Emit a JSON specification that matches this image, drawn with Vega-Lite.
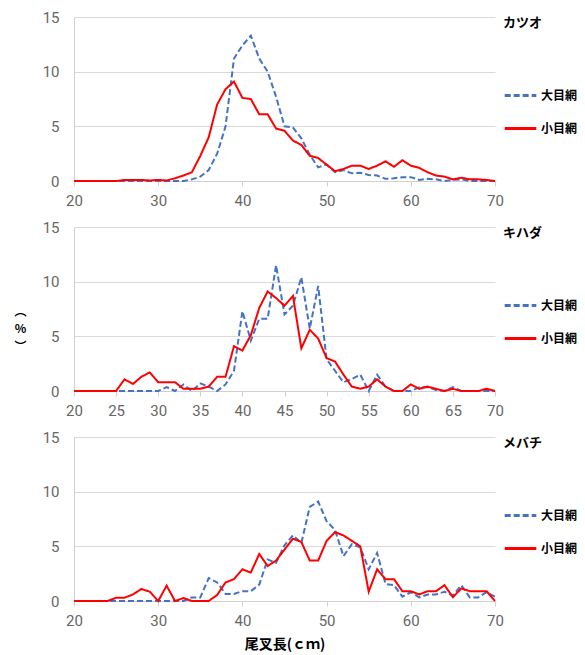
{
  "$schema": "https://vega.github.io/schema/vega-lite/v6.json",
  "background": "white",
  "padding": {"left": 13, "top": 10, "right": 5, "bottom": 5},
  "bounds": "flush",
  "spacing": 46,
  "resolve": {"scale": {"color": "independent", "strokeDash": "independent"}, "legend": {"color": "independent", "strokeDash": "independent"}},
  "config": {
    "view": {"stroke": null},
    "font": "Roboto",
    "axis": {"labelColor": "#666666", "labelFontSize": 15, "labelFont": "Roboto", "gridColor": "#D9D9D9", "domainColor": "#D0D0D0", "tickColor": "#D0D0D0", "titleFont": "Noto Sans CJK JP", "titleColor": "#000000"},
    "axisX": {"grid": false, "tickSize": 5, "labelPadding": 7, "labelFlush": false},
    "axisY": {"ticks": false, "labelPadding": 15, "grid": true},
    "legend": {"orient": "right", "offset": 4, "padding": 0, "titleFont": "Noto Sans CJK JP", "titleFontSize": 13, "titleFontWeight": "bold", "titleColor": "#000000", "titlePadding": 48, "labelFont": "Noto Sans CJK JP", "labelFontSize": 12, "labelFontWeight": "bold", "labelColor": "#000000", "symbolType": "stroke", "symbolSize": 1000, "symbolStrokeWidth": 3, "rowPadding": 9, "labelOffset": 3}
  },
  "data": {"values": [
    {"sp":"カツオ","net":"大目網","len":20,"pct":0},{"sp":"カツオ","net":"大目網","len":21,"pct":0},{"sp":"カツオ","net":"大目網","len":22,"pct":0},{"sp":"カツオ","net":"大目網","len":23,"pct":0},{"sp":"カツオ","net":"大目網","len":24,"pct":0},{"sp":"カツオ","net":"大目網","len":25,"pct":0},{"sp":"カツオ","net":"大目網","len":26,"pct":0},{"sp":"カツオ","net":"大目網","len":27,"pct":0},{"sp":"カツオ","net":"大目網","len":28,"pct":0},{"sp":"カツオ","net":"大目網","len":29,"pct":0},{"sp":"カツオ","net":"大目網","len":30,"pct":0},{"sp":"カツオ","net":"大目網","len":31,"pct":0},{"sp":"カツオ","net":"大目網","len":32,"pct":0},{"sp":"カツオ","net":"大目網","len":33,"pct":0},{"sp":"カツオ","net":"大目網","len":34,"pct":0.15},{"sp":"カツオ","net":"大目網","len":35,"pct":0.4},{"sp":"カツオ","net":"大目網","len":36,"pct":1.0},{"sp":"カツオ","net":"大目網","len":37,"pct":2.5},{"sp":"カツオ","net":"大目網","len":38,"pct":5.0},{"sp":"カツオ","net":"大目網","len":39,"pct":11.2},{"sp":"カツオ","net":"大目網","len":40,"pct":12.4},{"sp":"カツオ","net":"大目網","len":41,"pct":13.3},{"sp":"カツオ","net":"大目網","len":42,"pct":11.2},{"sp":"カツオ","net":"大目網","len":43,"pct":10.0},{"sp":"カツオ","net":"大目網","len":44,"pct":7.7},{"sp":"カツオ","net":"大目網","len":45,"pct":5.0},{"sp":"カツオ","net":"大目網","len":46,"pct":4.9},{"sp":"カツオ","net":"大目網","len":47,"pct":3.9},{"sp":"カツオ","net":"大目網","len":48,"pct":2.4},{"sp":"カツオ","net":"大目網","len":49,"pct":1.25},{"sp":"カツオ","net":"大目網","len":50,"pct":1.5},{"sp":"カツオ","net":"大目網","len":51,"pct":0.8},{"sp":"カツオ","net":"大目網","len":52,"pct":1.0},{"sp":"カツオ","net":"大目網","len":53,"pct":0.7},{"sp":"カツオ","net":"大目網","len":54,"pct":0.75},{"sp":"カツオ","net":"大目網","len":55,"pct":0.55},{"sp":"カツオ","net":"大目網","len":56,"pct":0.5},{"sp":"カツオ","net":"大目網","len":57,"pct":0.2},{"sp":"カツオ","net":"大目網","len":58,"pct":0.25},{"sp":"カツオ","net":"大目網","len":59,"pct":0.35},{"sp":"カツオ","net":"大目網","len":60,"pct":0.35},{"sp":"カツオ","net":"大目網","len":61,"pct":0.1},{"sp":"カツオ","net":"大目網","len":62,"pct":0.2},{"sp":"カツオ","net":"大目網","len":63,"pct":0.15},{"sp":"カツオ","net":"大目網","len":64,"pct":0},{"sp":"カツオ","net":"大目網","len":65,"pct":0.1},{"sp":"カツオ","net":"大目網","len":66,"pct":0.15},{"sp":"カツオ","net":"大目網","len":67,"pct":0},{"sp":"カツオ","net":"大目網","len":68,"pct":0},{"sp":"カツオ","net":"大目網","len":69,"pct":0},{"sp":"カツオ","net":"大目網","len":70,"pct":0},
    {"sp":"カツオ","net":"小目網","len":20,"pct":0},{"sp":"カツオ","net":"小目網","len":21,"pct":0},{"sp":"カツオ","net":"小目網","len":22,"pct":0},{"sp":"カツオ","net":"小目網","len":23,"pct":0},{"sp":"カツオ","net":"小目網","len":24,"pct":0},{"sp":"カツオ","net":"小目網","len":25,"pct":0},{"sp":"カツオ","net":"小目網","len":26,"pct":0.1},{"sp":"カツオ","net":"小目網","len":27,"pct":0.1},{"sp":"カツオ","net":"小目網","len":28,"pct":0.1},{"sp":"カツオ","net":"小目網","len":29,"pct":0.05},{"sp":"カツオ","net":"小目網","len":30,"pct":0.1},{"sp":"カツオ","net":"小目網","len":31,"pct":0.05},{"sp":"カツオ","net":"小目網","len":32,"pct":0.25},{"sp":"カツオ","net":"小目網","len":33,"pct":0.5},{"sp":"カツオ","net":"小目網","len":34,"pct":0.8},{"sp":"カツオ","net":"小目網","len":35,"pct":2.3},{"sp":"カツオ","net":"小目網","len":36,"pct":4.0},{"sp":"カツオ","net":"小目網","len":37,"pct":7.0},{"sp":"カツオ","net":"小目網","len":38,"pct":8.4},{"sp":"カツオ","net":"小目網","len":39,"pct":9.1},{"sp":"カツオ","net":"小目網","len":40,"pct":7.6},{"sp":"カツオ","net":"小目網","len":41,"pct":7.5},{"sp":"カツオ","net":"小目網","len":42,"pct":6.1},{"sp":"カツオ","net":"小目網","len":43,"pct":6.1},{"sp":"カツオ","net":"小目網","len":44,"pct":4.8},{"sp":"カツオ","net":"小目網","len":45,"pct":4.6},{"sp":"カツオ","net":"小目網","len":46,"pct":3.7},{"sp":"カツオ","net":"小目網","len":47,"pct":3.3},{"sp":"カツオ","net":"小目網","len":48,"pct":2.3},{"sp":"カツオ","net":"小目網","len":49,"pct":2.1},{"sp":"カツオ","net":"小目網","len":50,"pct":1.5},{"sp":"カツオ","net":"小目網","len":51,"pct":0.9},{"sp":"カツオ","net":"小目網","len":52,"pct":1.1},{"sp":"カツオ","net":"小目網","len":53,"pct":1.4},{"sp":"カツオ","net":"小目網","len":54,"pct":1.4},{"sp":"カツオ","net":"小目網","len":55,"pct":1.1},{"sp":"カツオ","net":"小目網","len":56,"pct":1.4},{"sp":"カツオ","net":"小目網","len":57,"pct":1.8},{"sp":"カツオ","net":"小目網","len":58,"pct":1.3},{"sp":"カツオ","net":"小目網","len":59,"pct":1.9},{"sp":"カツオ","net":"小目網","len":60,"pct":1.4},{"sp":"カツオ","net":"小目網","len":61,"pct":1.2},{"sp":"カツオ","net":"小目網","len":62,"pct":0.8},{"sp":"カツオ","net":"小目網","len":63,"pct":0.5},{"sp":"カツオ","net":"小目網","len":64,"pct":0.4},{"sp":"カツオ","net":"小目網","len":65,"pct":0.15},{"sp":"カツオ","net":"小目網","len":66,"pct":0.3},{"sp":"カツオ","net":"小目網","len":67,"pct":0.15},{"sp":"カツオ","net":"小目網","len":68,"pct":0.15},{"sp":"カツオ","net":"小目網","len":69,"pct":0.1},{"sp":"カツオ","net":"小目網","len":70,"pct":0},
    {"sp":"キハダ","net":"大目網","len":20,"pct":0},{"sp":"キハダ","net":"大目網","len":21,"pct":0},{"sp":"キハダ","net":"大目網","len":22,"pct":0},{"sp":"キハダ","net":"大目網","len":23,"pct":0},{"sp":"キハダ","net":"大目網","len":24,"pct":0},{"sp":"キハダ","net":"大目網","len":25,"pct":0},{"sp":"キハダ","net":"大目網","len":26,"pct":0},{"sp":"キハダ","net":"大目網","len":27,"pct":0},{"sp":"キハダ","net":"大目網","len":28,"pct":0},{"sp":"キハダ","net":"大目網","len":29,"pct":0},{"sp":"キハダ","net":"大目網","len":30,"pct":0},{"sp":"キハダ","net":"大目網","len":31,"pct":0.35},{"sp":"キハダ","net":"大目網","len":32,"pct":0},{"sp":"キハダ","net":"大目網","len":33,"pct":0.6},{"sp":"キハダ","net":"大目網","len":34,"pct":0},{"sp":"キハダ","net":"大目網","len":35,"pct":0.7},{"sp":"キハダ","net":"大目網","len":36,"pct":0.4},{"sp":"キハダ","net":"大目網","len":37,"pct":0},{"sp":"キハダ","net":"大目網","len":38,"pct":0.6},{"sp":"キハダ","net":"大目網","len":39,"pct":1.85},{"sp":"キハダ","net":"大目網","len":40,"pct":7.3},{"sp":"キハダ","net":"大目網","len":41,"pct":4.6},{"sp":"キハダ","net":"大目網","len":42,"pct":6.6},{"sp":"キハダ","net":"大目網","len":43,"pct":6.6},{"sp":"キハダ","net":"大目網","len":44,"pct":11.5},{"sp":"キハダ","net":"大目網","len":45,"pct":7.0},{"sp":"キハダ","net":"大目網","len":46,"pct":7.8},{"sp":"キハダ","net":"大目網","len":47,"pct":10.4},{"sp":"キハダ","net":"大目網","len":48,"pct":5.7},{"sp":"キハダ","net":"大目網","len":49,"pct":9.6},{"sp":"キハダ","net":"大目網","len":50,"pct":2.9},{"sp":"キハダ","net":"大目網","len":51,"pct":1.85},{"sp":"キハダ","net":"大目網","len":52,"pct":0.8},{"sp":"キハダ","net":"大目網","len":53,"pct":1.1},{"sp":"キハダ","net":"大目網","len":54,"pct":1.5},{"sp":"キハダ","net":"大目網","len":55,"pct":0},{"sp":"キハダ","net":"大目網","len":56,"pct":1.5},{"sp":"キハダ","net":"大目網","len":57,"pct":0.4},{"sp":"キハダ","net":"大目網","len":58,"pct":0},{"sp":"キハダ","net":"大目網","len":59,"pct":0},{"sp":"キハダ","net":"大目網","len":60,"pct":0},{"sp":"キハダ","net":"大目網","len":61,"pct":0.35},{"sp":"キハダ","net":"大目網","len":62,"pct":0.35},{"sp":"キハダ","net":"大目網","len":63,"pct":0.1},{"sp":"キハダ","net":"大目網","len":64,"pct":0},{"sp":"キハダ","net":"大目網","len":65,"pct":0.35},{"sp":"キハダ","net":"大目網","len":66,"pct":0},{"sp":"キハダ","net":"大目網","len":67,"pct":0},{"sp":"キハダ","net":"大目網","len":68,"pct":0},{"sp":"キハダ","net":"大目網","len":69,"pct":0},{"sp":"キハダ","net":"大目網","len":70,"pct":0},
    {"sp":"キハダ","net":"小目網","len":20,"pct":0},{"sp":"キハダ","net":"小目網","len":21,"pct":0},{"sp":"キハダ","net":"小目網","len":22,"pct":0},{"sp":"キハダ","net":"小目網","len":23,"pct":0},{"sp":"キハダ","net":"小目網","len":24,"pct":0},{"sp":"キハダ","net":"小目網","len":25,"pct":0},{"sp":"キハダ","net":"小目網","len":26,"pct":1.07},{"sp":"キハダ","net":"小目網","len":27,"pct":0.64},{"sp":"キハダ","net":"小目網","len":28,"pct":1.3},{"sp":"キハダ","net":"小目網","len":29,"pct":1.7},{"sp":"キハダ","net":"小目網","len":30,"pct":0.8},{"sp":"キハダ","net":"小目網","len":31,"pct":0.8},{"sp":"キハダ","net":"小目網","len":32,"pct":0.8},{"sp":"キハダ","net":"小目網","len":33,"pct":0.2},{"sp":"キハダ","net":"小目網","len":34,"pct":0.2},{"sp":"キハダ","net":"小目網","len":35,"pct":0.2},{"sp":"キハダ","net":"小目網","len":36,"pct":0.4},{"sp":"キハダ","net":"小目網","len":37,"pct":1.3},{"sp":"キハダ","net":"小目網","len":38,"pct":1.3},{"sp":"キハダ","net":"小目網","len":39,"pct":4.1},{"sp":"キハダ","net":"小目網","len":40,"pct":3.7},{"sp":"キハダ","net":"小目網","len":41,"pct":5.1},{"sp":"キハダ","net":"小目網","len":42,"pct":7.6},{"sp":"キハダ","net":"小目網","len":43,"pct":9.1},{"sp":"キハダ","net":"小目網","len":44,"pct":8.5},{"sp":"キハダ","net":"小目網","len":45,"pct":7.8},{"sp":"キハダ","net":"小目網","len":46,"pct":8.7},{"sp":"キハダ","net":"小目網","len":47,"pct":3.9},{"sp":"キハダ","net":"小目網","len":48,"pct":5.6},{"sp":"キハダ","net":"小目網","len":49,"pct":4.8},{"sp":"キハダ","net":"小目網","len":50,"pct":3.0},{"sp":"キハダ","net":"小目網","len":51,"pct":2.7},{"sp":"キハダ","net":"小目網","len":52,"pct":1.5},{"sp":"キハダ","net":"小目網","len":53,"pct":0.4},{"sp":"キハダ","net":"小目網","len":54,"pct":0.2},{"sp":"キハダ","net":"小目網","len":55,"pct":0.4},{"sp":"キハダ","net":"小目網","len":56,"pct":1.07},{"sp":"キハダ","net":"小目網","len":57,"pct":0.4},{"sp":"キハダ","net":"小目網","len":58,"pct":0},{"sp":"キハダ","net":"小目網","len":59,"pct":0},{"sp":"キハダ","net":"小目網","len":60,"pct":0.6},{"sp":"キハダ","net":"小目網","len":61,"pct":0.2},{"sp":"キハダ","net":"小目網","len":62,"pct":0.4},{"sp":"キハダ","net":"小目網","len":63,"pct":0.2},{"sp":"キハダ","net":"小目網","len":64,"pct":0},{"sp":"キハダ","net":"小目網","len":65,"pct":0.2},{"sp":"キハダ","net":"小目網","len":66,"pct":0},{"sp":"キハダ","net":"小目網","len":67,"pct":0},{"sp":"キハダ","net":"小目網","len":68,"pct":0},{"sp":"キハダ","net":"小目網","len":69,"pct":0.2},{"sp":"キハダ","net":"小目網","len":70,"pct":0},
    {"sp":"メバチ","net":"大目網","len":20,"pct":0},{"sp":"メバチ","net":"大目網","len":21,"pct":0},{"sp":"メバチ","net":"大目網","len":22,"pct":0},{"sp":"メバチ","net":"大目網","len":23,"pct":0},{"sp":"メバチ","net":"大目網","len":24,"pct":0},{"sp":"メバチ","net":"大目網","len":25,"pct":0},{"sp":"メバチ","net":"大目網","len":26,"pct":0},{"sp":"メバチ","net":"大目網","len":27,"pct":0},{"sp":"メバチ","net":"大目網","len":28,"pct":0},{"sp":"メバチ","net":"大目網","len":29,"pct":0},{"sp":"メバチ","net":"大目網","len":30,"pct":0},{"sp":"メバチ","net":"大目網","len":31,"pct":0},{"sp":"メバチ","net":"大目網","len":32,"pct":0},{"sp":"メバチ","net":"大目網","len":33,"pct":0},{"sp":"メバチ","net":"大目網","len":34,"pct":0.33},{"sp":"メバチ","net":"大目網","len":35,"pct":0.33},{"sp":"メバチ","net":"大目網","len":36,"pct":2.1},{"sp":"メバチ","net":"大目網","len":37,"pct":1.7},{"sp":"メバチ","net":"大目網","len":38,"pct":0.65},{"sp":"メバチ","net":"大目網","len":39,"pct":0.65},{"sp":"メバチ","net":"大目網","len":40,"pct":0.9},{"sp":"メバチ","net":"大目網","len":41,"pct":0.9},{"sp":"メバチ","net":"大目網","len":42,"pct":1.5},{"sp":"メバチ","net":"大目網","len":43,"pct":3.8},{"sp":"メバチ","net":"大目網","len":44,"pct":3.5},{"sp":"メバチ","net":"大目網","len":45,"pct":5.1},{"sp":"メバチ","net":"大目網","len":46,"pct":6.0},{"sp":"メバチ","net":"大目網","len":47,"pct":5.3},{"sp":"メバチ","net":"大目網","len":48,"pct":8.6},{"sp":"メバチ","net":"大目網","len":49,"pct":9.1},{"sp":"メバチ","net":"大目網","len":50,"pct":7.3},{"sp":"メバチ","net":"大目網","len":51,"pct":6.5},{"sp":"メバチ","net":"大目網","len":52,"pct":4.1},{"sp":"メバチ","net":"大目網","len":53,"pct":5.2},{"sp":"メバチ","net":"大目網","len":54,"pct":4.9},{"sp":"メバチ","net":"大目網","len":55,"pct":2.9},{"sp":"メバチ","net":"大目網","len":56,"pct":4.4},{"sp":"メバチ","net":"大目網","len":57,"pct":1.55},{"sp":"メバチ","net":"大目網","len":58,"pct":1.45},{"sp":"メバチ","net":"大目網","len":59,"pct":0.4},{"sp":"メバチ","net":"大目網","len":60,"pct":0.8},{"sp":"メバチ","net":"大目網","len":61,"pct":0.33},{"sp":"メバチ","net":"大目網","len":62,"pct":0.6},{"sp":"メバチ","net":"大目網","len":63,"pct":0.6},{"sp":"メバチ","net":"大目網","len":64,"pct":0.85},{"sp":"メバチ","net":"大目網","len":65,"pct":0.5},{"sp":"メバチ","net":"大目網","len":66,"pct":1.45},{"sp":"メバチ","net":"大目網","len":67,"pct":0.33},{"sp":"メバチ","net":"大目網","len":68,"pct":0.33},{"sp":"メバチ","net":"大目網","len":69,"pct":0.8},{"sp":"メバチ","net":"大目網","len":70,"pct":0.4},
    {"sp":"メバチ","net":"小目網","len":20,"pct":0},{"sp":"メバチ","net":"小目網","len":21,"pct":0},{"sp":"メバチ","net":"小目網","len":22,"pct":0},{"sp":"メバチ","net":"小目網","len":23,"pct":0},{"sp":"メバチ","net":"小目網","len":24,"pct":0},{"sp":"メバチ","net":"小目網","len":25,"pct":0.3},{"sp":"メバチ","net":"小目網","len":26,"pct":0.3},{"sp":"メバチ","net":"小目網","len":27,"pct":0.6},{"sp":"メバチ","net":"小目網","len":28,"pct":1.1},{"sp":"メバチ","net":"小目網","len":29,"pct":0.85},{"sp":"メバチ","net":"小目網","len":30,"pct":0},{"sp":"メバチ","net":"小目網","len":31,"pct":1.4},{"sp":"メバチ","net":"小目網","len":32,"pct":0},{"sp":"メバチ","net":"小目網","len":33,"pct":0.27},{"sp":"メバチ","net":"小目網","len":34,"pct":0},{"sp":"メバチ","net":"小目網","len":35,"pct":0},{"sp":"メバチ","net":"小目網","len":36,"pct":0},{"sp":"メバチ","net":"小目網","len":37,"pct":0.55},{"sp":"メバチ","net":"小目網","len":38,"pct":1.7},{"sp":"メバチ","net":"小目網","len":39,"pct":2.0},{"sp":"メバチ","net":"小目網","len":40,"pct":2.9},{"sp":"メバチ","net":"小目網","len":41,"pct":2.6},{"sp":"メバチ","net":"小目網","len":42,"pct":4.3},{"sp":"メバチ","net":"小目網","len":43,"pct":3.2},{"sp":"メバチ","net":"小目網","len":44,"pct":3.7},{"sp":"メバチ","net":"小目網","len":45,"pct":4.7},{"sp":"メバチ","net":"小目網","len":46,"pct":5.7},{"sp":"メバチ","net":"小目網","len":47,"pct":5.4},{"sp":"メバチ","net":"小目網","len":48,"pct":3.7},{"sp":"メバチ","net":"小目網","len":49,"pct":3.7},{"sp":"メバチ","net":"小目網","len":50,"pct":5.5},{"sp":"メバチ","net":"小目網","len":51,"pct":6.3},{"sp":"メバチ","net":"小目網","len":52,"pct":6.0},{"sp":"メバチ","net":"小目網","len":53,"pct":5.5},{"sp":"メバチ","net":"小目網","len":54,"pct":5.0},{"sp":"メバチ","net":"小目網","len":55,"pct":0.85},{"sp":"メバチ","net":"小目網","len":56,"pct":2.9},{"sp":"メバチ","net":"小目網","len":57,"pct":2.0},{"sp":"メバチ","net":"小目網","len":58,"pct":2.0},{"sp":"メバチ","net":"小目網","len":59,"pct":0.9},{"sp":"メバチ","net":"小目網","len":60,"pct":0.9},{"sp":"メバチ","net":"小目網","len":61,"pct":0.6},{"sp":"メバチ","net":"小目網","len":62,"pct":0.9},{"sp":"メバチ","net":"小目網","len":63,"pct":0.9},{"sp":"メバチ","net":"小目網","len":64,"pct":1.45},{"sp":"メバチ","net":"小目網","len":65,"pct":0.35},{"sp":"メバチ","net":"小目網","len":66,"pct":1.15},{"sp":"メバチ","net":"小目網","len":67,"pct":0.9},{"sp":"メバチ","net":"小目網","len":68,"pct":0.9},{"sp":"メバチ","net":"小目網","len":69,"pct":0.9},{"sp":"メバチ","net":"小目網","len":70,"pct":0}
  ]},
  "vconcat": [
    {
      "width": 421, "height": 164,
      "transform": [{"filter": "datum.sp === 'カツオ'"}],
      "mark": {"type": "line", "strokeWidth": 2},
      "encoding": {
        "x": {"field": "len", "type": "quantitative", "scale": {"domain": [20, 70]}, "axis": {"values": [20, 30, 40, 50, 60, 70], "title": null}},
        "y": {"field": "pct", "type": "quantitative", "scale": {"domain": [0, 15]}, "axis": {"values": [0, 5, 10, 15], "title": null}},
        "color": {"field": "net", "type": "nominal", "scale": {"domain": ["大目網", "小目網"], "range": ["#4472C4", "#FF0000"]}, "legend": {"title": "カツオ"}},
        "strokeDash": {"field": "net", "type": "nominal", "scale": {"domain": ["大目網", "小目網"], "range": [[6, 3], [1, 0]]}, "legend": {"title": "カツオ"}}
      }
    },
    {
      "width": 421, "height": 164,
      "transform": [{"filter": "datum.sp === 'キハダ'"}],
      "mark": {"type": "line", "strokeWidth": 2},
      "encoding": {
        "x": {"field": "len", "type": "quantitative", "scale": {"domain": [20, 70]}, "axis": {"values": [20, 25, 30, 35, 40, 45, 50, 55, 60, 65, 70], "title": null}},
        "y": {"field": "pct", "type": "quantitative", "scale": {"domain": [0, 15]}, "axis": {"values": [0, 5, 10, 15], "title": ["︵", "%", "︶"], "titleAngle": 0, "titleX": -54, "titleY": 84, "titleAlign": "center", "titleBaseline": "middle", "titleFontSize": 12, "titleFontWeight": "bold", "titleLineHeight": 17.5}},
        "color": {"field": "net", "type": "nominal", "scale": {"domain": ["大目網", "小目網"], "range": ["#4472C4", "#FF0000"]}, "legend": {"title": "キハダ"}},
        "strokeDash": {"field": "net", "type": "nominal", "scale": {"domain": ["大目網", "小目網"], "range": [[6, 3], [1, 0]]}, "legend": {"title": "キハダ"}}
      }
    },
    {
      "width": 421, "height": 164,
      "transform": [{"filter": "datum.sp === 'メバチ'"}],
      "mark": {"type": "line", "strokeWidth": 2},
      "encoding": {
        "x": {"field": "len", "type": "quantitative", "scale": {"domain": [20, 70]}, "axis": {"values": [20, 30, 40, 50, 60, 70], "title": "尾叉長(ｃｍ)", "titleFontSize": 14, "titleFontWeight": "bold", "titlePadding": 9}},
        "y": {"field": "pct", "type": "quantitative", "scale": {"domain": [0, 15]}, "axis": {"values": [0, 5, 10, 15], "title": null}},
        "color": {"field": "net", "type": "nominal", "scale": {"domain": ["大目網", "小目網"], "range": ["#4472C4", "#FF0000"]}, "legend": {"title": "メバチ"}},
        "strokeDash": {"field": "net", "type": "nominal", "scale": {"domain": ["大目網", "小目網"], "range": [[6, 3], [1, 0]]}, "legend": {"title": "メバチ"}}
      }
    }
  ]
}
